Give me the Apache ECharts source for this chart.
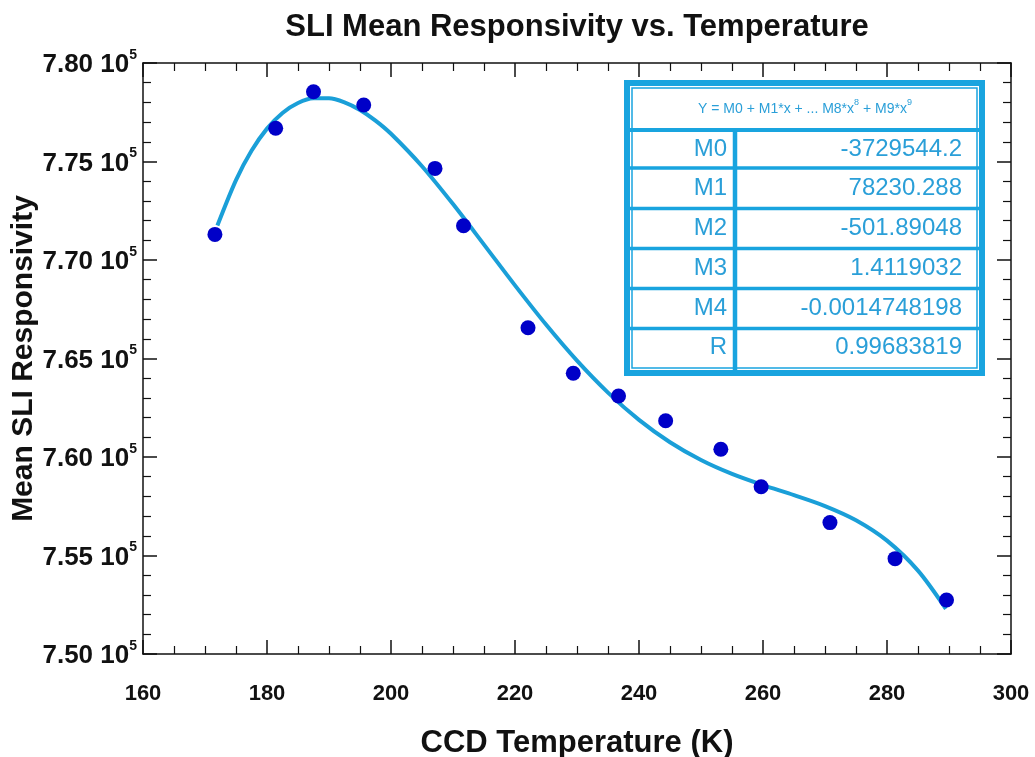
<!DOCTYPE html>
<html>
<head>
<meta charset="utf-8">
<script src="https://cdn.jsdelivr.net/npm/echarts@6/dist/echarts.min.js"></script>
<style>
html,body{margin:0;padding:0;background:#fff;}
#chart{width:1035px;height:757px;}
</style>
</head>
<body>
<div id="chart"></div>
<script>
// Measured points (CCD temperature in K, mean SLI responsivity)
const tempK = [171.6, 181.4, 187.5, 195.6, 207.1, 211.7, 222.1, 229.4, 236.7, 244.3, 253.2, 259.7, 270.8, 281.3, 289.6];
const responsivity = [771300, 776690, 778540, 777870, 774650, 771740, 766560, 764250, 763100, 761840, 760390, 758490, 756670, 754840, 752740];

// Fitted curve
const fitX = [172, 175, 177.5, 180, 182.5, 185, 187.5, 190, 192.5, 195, 197.5, 200, 205, 210, 215, 220, 225, 230, 235, 240, 245, 250, 255, 260, 265, 270, 275, 280, 285, 289.5];
const fitY = [771752, 774058, 775544, 776668, 777466, 777968, 778205, 778208, 778004, 777619, 777079, 776408, 774760, 772837, 770781, 768711, 766723, 764891, 763269, 761885, 760749, 759846, 759140, 758572, 758064, 757511, 756790, 755754, 754232, 752293];

// Fit-table contents
const tableHeader = 'Y = M0 + M1*x + ... M8*x';
const paramNames = ['M0', 'M1', 'M2', 'M3', 'M4', 'R'];
const paramValues = ['-3729544.2', '78230.288', '-501.89048', '1.4119032', '-0.0014748198', '0.99683819'];

const xTicks = [160, 180, 200, 220, 240, 260, 280, 300];
const yTicks = [750000, 755000, 760000, 765000, 770000, 775000, 780000];

const FONT = '"Liberation Sans", Arial, sans-serif';
const BLUE = '#19a4df';
const TXT = '#2a9fd8';

const chart = echarts.init(document.getElementById('chart'));

// table graphics
const tX = 627, tY = 83, tW = 355, tH = 290;
const colX = 735;
const headerBottom = 130;
const rowLines = [168, 208.5, 248.5, 288.5, 328.5];
const rowCenters = [149, 188.5, 228.5, 268.5, 308.5, 347.5];
const g = [];
g.push({type:'rect', shape:{x:tX, y:tY, width:tW, height:tH}, style:{fill:'#fff', stroke:BLUE, lineWidth:6}, z:100});
g.push({type:'rect', shape:{x:tX+5, y:tY+5, width:tW-10, height:tH-10}, style:{fill:'none', stroke:BLUE, lineWidth:1.5}, z:101});
g.push({type:'line', shape:{x1:tX, y1:headerBottom, x2:tX+tW, y2:headerBottom}, style:{stroke:BLUE, lineWidth:4}, z:101});
rowLines.forEach(y => g.push({type:'line', shape:{x1:tX, y1:y, x2:tX+tW, y2:y}, style:{stroke:BLUE, lineWidth:3.5}, z:101}));
g.push({type:'line', shape:{x1:colX, y1:headerBottom, x2:colX, y2:tY+tH}, style:{stroke:BLUE, lineWidth:4.5}, z:101});
g.push({type:'text', x:805, y:107, z:102, style:{
  text:'{a|' + tableHeader + '}{s|8}{a| + M9*x}{s|9}',
  align:'center', verticalAlign:'middle',
  rich:{a:{fontSize:14, fontFamily:FONT, fill:TXT, lineHeight:18, verticalAlign:'bottom'},
        s:{fontSize:9, fontFamily:FONT, fill:TXT, lineHeight:18, verticalAlign:'top'}}
}});
paramNames.forEach((n,i) => {
  g.push({type:'text', x:727, y:rowCenters[i], z:102, style:{text:n, fontSize:24, fontFamily:FONT, fill:TXT, align:'right', verticalAlign:'middle'}});
  g.push({type:'text', x:962, y:rowCenters[i], z:102, style:{text:paramValues[i], fontSize:24, fontFamily:FONT, fill:TXT, align:'right', verticalAlign:'middle'}});
});

const axisLine = {show:true, lineStyle:{color:'#111', width:1.5}};
const majorTick = {show:true, inside:true, length:14, lineStyle:{color:'#111', width:1.5}};

chart.setOption({
  animation:false,
  backgroundColor:'#fff',
  title:{text:'SLI Mean Responsivity vs. Temperature', left:572, top:7, textAlign:'center',
    textStyle:{fontFamily:FONT, fontWeight:'bold', fontSize:31, color:'#111'}},
  grid:{left:143, right:24, top:63, bottom:103, containLabel:false, outerBoundsMode:'none'},
  xAxis:[{
    type:'value', min:xTicks[0], max:xTicks[xTicks.length-1], interval:20, position:'bottom',
    name:'CCD Temperature (K)', nameLocation:'middle', nameGap:74, nameMoveOverlap:false,
    nameTextStyle:{fontFamily:FONT, fontWeight:'bold', fontSize:31, color:'#111'},
    axisLine, axisTick:majorTick,
    minorTick:{show:true, splitNumber:4, length:8, lineStyle:{color:'#111', width:1.2}},
    axisLabel:{fontFamily:FONT, fontWeight:'bold', fontSize:22, color:'#111', margin:29},
    splitLine:{show:false}
  },{
    type:'value', min:xTicks[0], max:xTicks[xTicks.length-1], interval:20, position:'top',
    axisLine, axisTick:majorTick,
    minorTick:{show:true, splitNumber:4, length:8, lineStyle:{color:'#111', width:1.2}},
    axisLabel:{show:false}, splitLine:{show:false}
  }],
  yAxis:[{
    type:'value', min:yTicks[0], max:yTicks[yTicks.length-1], interval:5000, position:'left',
    name:'Mean SLI Responsivity', nameLocation:'middle', nameGap:104, nameMoveOverlap:false,
    nameTextStyle:{fontFamily:FONT, fontWeight:'bold', fontSize:30, color:'#111'},
    axisLine, axisTick:majorTick,
    minorTick:{show:true, splitNumber:5, length:8, lineStyle:{color:'#111', width:1.2}},
    axisLabel:{margin:6, formatter: v => '{a|' + (v/1e5).toFixed(2) + ' 10}{s|5}',
      rich:{a:{fontFamily:FONT, fontWeight:'bold', fontSize:26, color:'#111', lineHeight:30, verticalAlign:'bottom', padding:[6,0,0,0]},
            s:{fontFamily:FONT, fontWeight:'bold', fontSize:14, color:'#111', lineHeight:30, verticalAlign:'top'}}},
    splitLine:{show:false}
  },{
    type:'value', min:yTicks[0], max:yTicks[yTicks.length-1], interval:5000, position:'right',
    axisLine, axisTick:majorTick,
    minorTick:{show:true, splitNumber:5, length:8, lineStyle:{color:'#111', width:1.2}},
    axisLabel:{show:false}, splitLine:{show:false}
  }],
  series:[{
    type:'line', name:'fit', data: fitX.map((x,i)=>[x, fitY[i]]), smooth:0.3, showSymbol:false,
    lineStyle:{color:'#1a9fd8', width:4}, z:2
  },{
    type:'scatter', name:'data', data: tempK.map((x,i)=>[x, responsivity[i]]),
    symbol:'circle', symbolSize:15, itemStyle:{color:'#0000c8', opacity:1}, z:3
  }],
  graphic: g
});
</script>
</body>
</html>
